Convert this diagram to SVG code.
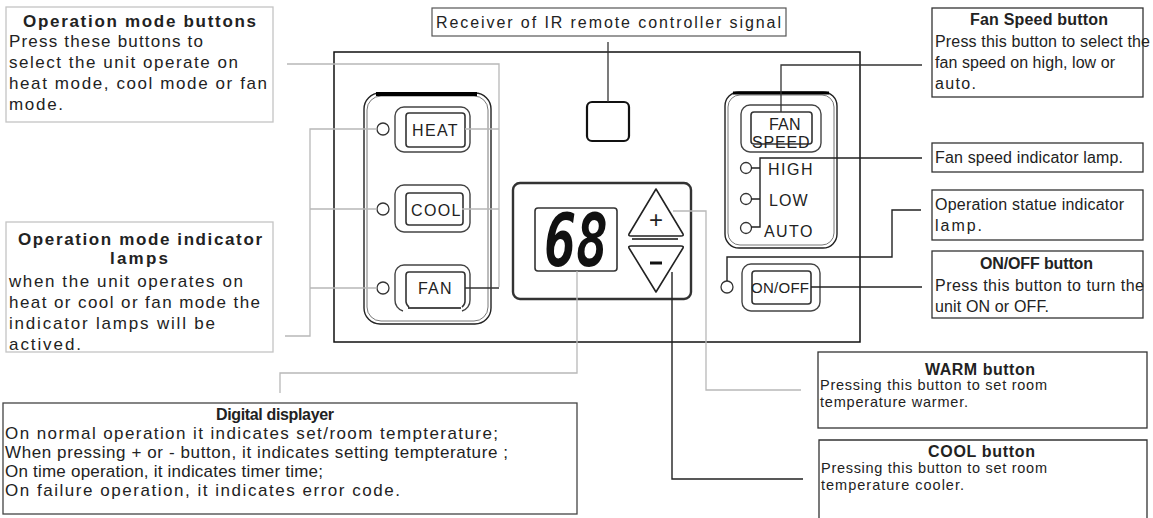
<svg xmlns="http://www.w3.org/2000/svg" width="1153" height="518" viewBox="0 0 1153 518">
<style>
text{font-family:"Liberation Sans",Arial,sans-serif;fill:#222}
.t17{font-size:17px}
.t16{font-size:16px}
.t15{font-size:15px}
.t14{font-size:14.5px}
.b{font-weight:bold}
.lbox{fill:#fff;stroke:#c4c4c4;stroke-width:1.3}
.dbox{fill:#fff;stroke:#333;stroke-width:1.3}
.cg{fill:none;stroke:#b8b8b8;stroke-width:1.3}
.cd{fill:none;stroke:#333;stroke-width:1.3}
.ln{fill:none;stroke:#222;stroke-width:1.4}
.lamp{fill:#fff;stroke:#333;stroke-width:1.3}
.btnO{fill:#fff;stroke:#444;stroke-width:1.4}
.btnI{fill:none;stroke:#333;stroke-width:1.6}
.lbl{font-size:16px;letter-spacing:0.5px}
</style>

<!-- panel -->
<g id="panel">
  <rect x="334" y="52" width="526" height="290" fill="#fff" stroke="#111" stroke-width="1.5"/>
</g>

<g id="left-cluster">
  <rect x="364" y="93" width="127" height="231" rx="16" class="ln" stroke-width="2"/>
  <rect x="367" y="96" width="121" height="225" rx="14" fill="none" stroke="#555" stroke-width="0.8"/>
  <line x1="376" y1="94" x2="477" y2="94" stroke="#000" stroke-width="4"/>
</g>

<g id="btn-heat">
  <rect x="395" y="107" width="75" height="45" rx="9" class="btnO"/>
  <rect x="406" y="113" width="59" height="34" rx="3" class="btnI"/>
  <text x="412" y="136" class="lbl" textLength="46" lengthAdjust="spacing">HEAT</text>
</g>
<g id="btn-cool">
  <rect x="395" y="185" width="75" height="47" rx="9" class="btnO"/>
  <rect x="406" y="193" width="57" height="32" rx="3" class="btnI"/>
  <text x="411" y="216" class="lbl" textLength="50" lengthAdjust="spacing">COOL</text>
</g>
<g id="btn-fan">
  <path d="M395 300 V274 a9 9 0 0 1 9 -9 H461 a9 9 0 0 1 9 9 V300 M395 300 a11 11 0 0 0 8 11 M470 300 a11 11 0 0 1 -8 11" class="btnO" fill="none"/>
  <path d="M406 300 V275 a3 3 0 0 1 3 -3 H462 a3 3 0 0 1 3 3 V300 M406 300 a8 8 0 0 0 3 7 M465 300 a8 8 0 0 1 -3 7" class="btnI"/>
  <line x1="408" y1="308" x2="461" y2="308" stroke="#111" stroke-width="1.5"/>
  <text x="418" y="294" class="lbl" textLength="34" lengthAdjust="spacing">FAN</text>
</g>
<g id="lamps-left">
  <circle cx="383" cy="129" r="6" class="lamp"/>
  <circle cx="383" cy="209" r="6" class="lamp"/>
  <circle cx="383" cy="288" r="6" class="lamp"/>
</g>

<g id="ir-receiver">
  <rect x="587" y="102" width="42" height="39" rx="5" fill="#fff" stroke="#111" stroke-width="2.2"/>
</g>

<g id="display">
  <rect x="513" y="183" width="178" height="116" rx="7" fill="#fff" stroke="#333" stroke-width="2.4"/>
  <rect x="535" y="208" width="82" height="63" rx="3" fill="#fff" stroke="#333" stroke-width="1.6"/>
  <text transform="translate(576,266) scale(0.74,1)" text-anchor="middle" style="font-family:'DejaVu Sans Mono',monospace;font-size:72px;font-weight:bold;font-style:italic;fill:#111">68</text>
</g>
<g id="btn-plus">
  <path d="M656 189 L683 234 Q684 236 681 236 L631 236 Q628 236 629 234 Z" fill="#fff" stroke="#222" stroke-width="1.6" stroke-linejoin="round"/>
  <line x1="632" y1="239" x2="678" y2="239" stroke="#111" stroke-width="1.6"/>
  <text x="656" y="228" text-anchor="middle" style="font-size:24px">+</text>
</g>
<g id="btn-minus">
  <path d="M631 246 L681 246 Q684 246 683 248 L656 292 L629 248 Q628 246 631 246 Z" fill="#fff" stroke="#222" stroke-width="1.6" stroke-linejoin="round"/>
  <line x1="650" y1="263" x2="662" y2="263" stroke="#111" stroke-width="3"/>
</g>

<g id="right-cluster">
  <rect x="725" y="92" width="112" height="156" rx="14" class="ln" stroke-width="2"/>
  <rect x="728" y="95" width="106" height="150" rx="12" fill="none" stroke="#555" stroke-width="0.8"/>
  <line x1="733" y1="93" x2="829" y2="93" stroke="#000" stroke-width="3"/>
</g>
<g id="btn-fanspeed">
  <rect x="741" y="105" width="80" height="47" rx="9" class="btnO"/>
  <rect x="751" y="112" width="61" height="32" rx="3" class="btnI"/>
  <text x="769" y="130" class="lbl" textLength="32" lengthAdjust="spacing">FAN</text>
  <text x="752" y="148" class="lbl" textLength="58" lengthAdjust="spacing">SPEED</text>
</g>
<g id="fan-lamps">
  <circle cx="746" cy="168" r="5.5" class="lamp"/>
  <circle cx="746" cy="199" r="5.5" class="lamp"/>
  <circle cx="746" cy="228" r="5.5" class="lamp"/>
  <text x="768" y="175" class="lbl" textLength="45" lengthAdjust="spacing">HIGH</text>
  <text x="769" y="206" class="lbl" textLength="39" lengthAdjust="spacing">LOW</text>
  <text x="764" y="237" class="lbl" textLength="49" lengthAdjust="spacing">AUTO</text>
</g>
<g id="op-lamp">
  <circle cx="727" cy="287" r="6" class="lamp"/>
</g>
<g id="btn-onoff">
  <rect x="742" y="264" width="78" height="47" rx="9" class="btnO"/>
  <rect x="752" y="271" width="59" height="33" rx="3" class="btnI"/>
  <text x="751" y="293" style="font-size:15px" textLength="58" lengthAdjust="spacing">ON/OFF</text>
</g>

<!-- connectors -->
<g id="connectors">
  <path d="M287 64 H499 V287" class="cg"/>
  <path d="M465 129 H499 M462 209 H499" class="cg"/>
  <path d="M465 288 H499" class="cd"/>
  <path d="M377 129 H310 V336 H285 M310 209 H377 M310 288 H377" class="cg"/>
  <path d="M608 42 V102" class="cd"/>
  <path d="M577 271 V373 H280 V393" class="cg"/>
  <path d="M673 211 H706 V390 H801" class="cg"/>
  <path d="M672 272 V479 H803" class="ln"/>
  <path d="M781 112 V65 H922" class="cd"/>
  <path d="M922 158 H760 V227 H751 M751 168 H760 M751 199 H760" class="ln"/>
  <path d="M727 281 V257 H892 V210 H921" class="ln"/>
  <path d="M811 287 H922" class="ln"/>
</g>

<g id="note-op-buttons">
  <rect x="6" y="7" width="267" height="115" class="lbox"/>
  <text x="23" y="27" class="t17 b" textLength="233" lengthAdjust="spacing">Operation mode buttons</text>
  <text x="9" y="47" class="t17" textLength="194" lengthAdjust="spacing">Press these buttons to</text>
  <text x="9" y="68" class="t17" textLength="229" lengthAdjust="spacing">select the unit operate on</text>
  <text x="9" y="89" class="t17" textLength="258" lengthAdjust="spacing">heat mode,  cool mode or fan</text>
  <text x="9" y="110" class="t17" textLength="54" lengthAdjust="spacing">mode.</text>
</g>

<g id="note-op-lamps">
  <rect x="6" y="222" width="267" height="130" class="lbox"/>
  <text x="18" y="245" class="t17 b" textLength="244" lengthAdjust="spacing">Operation mode indicator</text>
  <text x="110" y="264" class="t17 b" textLength="58" lengthAdjust="spacing">lamps</text>
  <text x="9" y="287" class="t17" textLength="234" lengthAdjust="spacing">when the unit operates on</text>
  <text x="9" y="308" class="t17" textLength="251" lengthAdjust="spacing">heat or cool or fan mode the</text>
  <text x="9" y="329" class="t17" textLength="206" lengthAdjust="spacing">indicator lamps will  be</text>
  <text x="9" y="350" class="t17" textLength="72" lengthAdjust="spacing">actived.</text>
</g>

<g id="note-receiver">
  <rect x="432" y="8" width="354" height="28" fill="#fff" stroke="#555" stroke-width="1.2"/>
  <text x="436" y="28" class="t16" textLength="345" lengthAdjust="spacing">Receiver of IR remote controller signal</text>
</g>

<g id="note-fanspeed-btn">
  <rect x="932" y="8" width="211" height="89" class="dbox"/>
  <text x="970" y="25" class="t16 b" textLength="138" lengthAdjust="spacing">Fan Speed button</text>
  <text x="935" y="47" class="t16" textLength="215" lengthAdjust="spacing">Press this button to select  the</text>
  <text x="935" y="68" class="t16" textLength="180" lengthAdjust="spacing">fan speed on high, low or</text>
  <text x="935" y="89" class="t16" textLength="41" lengthAdjust="spacing">auto.</text>
</g>

<g id="note-fanspeed-lamp">
  <rect x="932" y="143" width="211" height="29" class="dbox"/>
  <text x="935" y="163" class="t16" textLength="188" lengthAdjust="spacing">Fan speed indicator lamp.</text>
</g>

<g id="note-op-statue">
  <rect x="932" y="190" width="211" height="50" class="dbox"/>
  <text x="935" y="210" class="t16" textLength="189" lengthAdjust="spacing">Operation statue indicator</text>
  <text x="935" y="231" class="t16" textLength="47" lengthAdjust="spacing">lamp.</text>
</g>

<g id="note-onoff">
  <rect x="932" y="251" width="211" height="67" class="dbox"/>
  <text x="980" y="269" class="t16 b" textLength="113" lengthAdjust="spacing">ON/OFF button</text>
  <text x="935" y="291" class="t16" textLength="209" lengthAdjust="spacing">Press this button to turn  the</text>
  <text x="935" y="312" class="t16" textLength="114" lengthAdjust="spacing">unit ON or OFF.</text>
</g>

<g id="note-warm">
  <rect x="818" y="352" width="329" height="76" class="dbox"/>
  <text x="925" y="375" class="t16 b" textLength="110" lengthAdjust="spacing">WARM button</text>
  <text x="820" y="390" class="t14" textLength="227" lengthAdjust="spacing">Pressing this button to set room</text>
  <text x="820" y="407" class="t14" textLength="148" lengthAdjust="spacing">temperature warmer.</text>
</g>

<g id="note-cool">
  <path d="M819 522 V440 H1147 V522" class="dbox"/>
  <text x="928" y="457" class="t16 b" textLength="107" lengthAdjust="spacing">COOL button</text>
  <text x="821" y="473" class="t14" textLength="226" lengthAdjust="spacing">Pressing this button to set room</text>
  <text x="821" y="490" class="t14" textLength="143" lengthAdjust="spacing">temperature cooler.</text>
</g>

<g id="note-display">
  <rect x="3" y="403" width="574" height="111" fill="#fff" stroke="#444" stroke-width="1.3"/>
  <text x="216" y="420" class="t16 b" textLength="118" lengthAdjust="spacing">Digital displayer</text>
  <text x="5" y="439" class="t17" textLength="493" lengthAdjust="spacing">On normal operation it indicates set/room tempterature;</text>
  <text x="5" y="458" class="t17" textLength="503" lengthAdjust="spacing">When pressing + or - button, it indicates setting tempterature ;</text>
  <text x="5" y="477" class="t17" textLength="318" lengthAdjust="spacing">On time operation, it indicates timer time;</text>
  <text x="5" y="496" class="t17" textLength="395" lengthAdjust="spacing">On failure operation, it indicates error code.</text>
</g>
</svg>
